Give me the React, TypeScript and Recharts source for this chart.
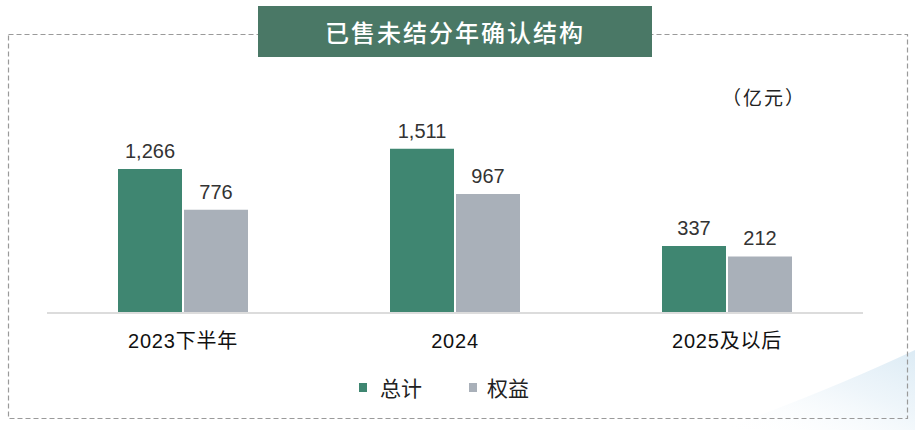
import React from "react";
import { BarChart, Bar, XAxis, YAxis, LabelList } from "recharts";

const categories = ["2023下半年", "2024", "2025及以后"];
const totalValues = [1266, 1511, 337];
const equityValues = [776, 967, 212];
const seriesNames = ["总计", "权益"];
const TITLE = "已售未结分年确认结构";
const UNIT = "（亿元）";
const AXIS_MIN = -470;
const AXIS_MAX = 2100;

const GREEN = "#3f8671";
const GRAY = "#a9b0b9";

const data = categories.map((c, i) => ({
  name: c,
  total: totalValues[i],
  equity: equityValues[i],
}));

const fmt = (v: any) => {
  const n = Array.isArray(v) ? v[1] : v;
  return Number(n).toLocaleString("en-US");
};

const LATIN = "'Liberation Sans', Arial, 'Noto Sans CJK SC', sans-serif";
const CJK = "'Noto Sans CJK SC', 'Liberation Sans', sans-serif";

export default function App() {
  return (
    <div
      style={{
        position: "absolute",
        left: 0,
        top: 0,
        width: 915,
        height: 430,
        background: "#fff",
        overflow: "hidden",
        fontFamily: LATIN,
      }}
    >
      <svg width={915} height={430} style={{ position: "absolute", left: 0, top: 0 }}>
        <defs>
          <linearGradient id="glow" x1="0" y1="1" x2="1" y2="0">
            <stop offset="0%" stopColor="#ffffff" stopOpacity={0} />
            <stop offset="60%" stopColor="#e3eff7" stopOpacity={0.6} />
            <stop offset="100%" stopColor="#d3e6f2" stopOpacity={0.8} />
          </linearGradient>
        </defs>
        <path d="M 720 430 Q 830 390 915 350 L 915 430 Z" fill="url(#glow)" />
        <rect
          x={8.5}
          y={34.5}
          width={899}
          height={384}
          fill="none"
          stroke="#9a9a9a"
          strokeWidth={1.2}
          strokeDasharray="5 3"
        />
      </svg>
      <div
        style={{
          position: "absolute",
          left: 258,
          top: 6,
          width: 394,
          height: 51,
          background: "#4a7866",
          color: "#fff",
          fontFamily: CJK,
          fontSize: 24,
          fontWeight: 500,
          letterSpacing: 2,
          display: "flex",
          alignItems: "center",
          justifyContent: "center",
        }}
      >
        {TITLE}
      </div>
      <div
        style={{
          position: "absolute",
          left: 722,
          top: 84,
          fontFamily: CJK,
          fontSize: 19,
          letterSpacing: 2,
          color: "#222",
          lineHeight: "26px",
        }}
      >
        {UNIT}
      </div>
      <div style={{ position: "absolute", left: 0, top: 0 }}>
        <BarChart
          width={915}
          height={430}
          data={data}
          margin={{ top: 100, right: 52, bottom: 77, left: 47 }}
          barSize={64}
          barGap={2}
        >
          <XAxis
            dataKey="name"
            height={40}
            tickLine={false}
            tickSize={0}
            tickMargin={21}
            axisLine={{ stroke: "#dcdcdc", strokeWidth: 2 }}
            tick={{ fontSize: 20, fill: "#111", fontFamily: LATIN, letterSpacing: 0.8 }}
            interval={0}
          />
          <YAxis hide domain={[AXIS_MIN, AXIS_MAX]} type="number" />
          <Bar
            name={seriesNames[0]}
            dataKey={(d: any) => [AXIS_MIN, d.total]}
            fill={GREEN}
            isAnimationActive={false}
          >
            <LabelList
              position="top"
              offset={11}
              formatter={fmt}
              style={{ fontSize: 20, fill: "#333", fontFamily: LATIN }}
            />
          </Bar>
          <Bar
            name={seriesNames[1]}
            dataKey={(d: any) => [AXIS_MIN, d.equity]}
            fill={GRAY}
            isAnimationActive={false}
          >
            <LabelList
              position="top"
              offset={11}
              formatter={fmt}
              style={{ fontSize: 20, fill: "#333", fontFamily: LATIN }}
            />
          </Bar>
        </BarChart>
      </div>
      <div
        style={{
          position: "absolute",
          left: 359,
          top: 374,
          display: "flex",
          alignItems: "center",
          fontFamily: CJK,
          fontSize: 21,
          color: "#222",
          lineHeight: "26px",
        }}
      >
        <span style={{ width: 8, height: 9, background: GREEN, display: "inline-block", marginRight: 13 }} />
        <span>{seriesNames[0]}</span>
        <span style={{ width: 8, height: 9, background: GRAY, display: "inline-block", marginLeft: 47, marginRight: 10 }} />
        <span>{seriesNames[1]}</span>
      </div>
    </div>
  );
}
